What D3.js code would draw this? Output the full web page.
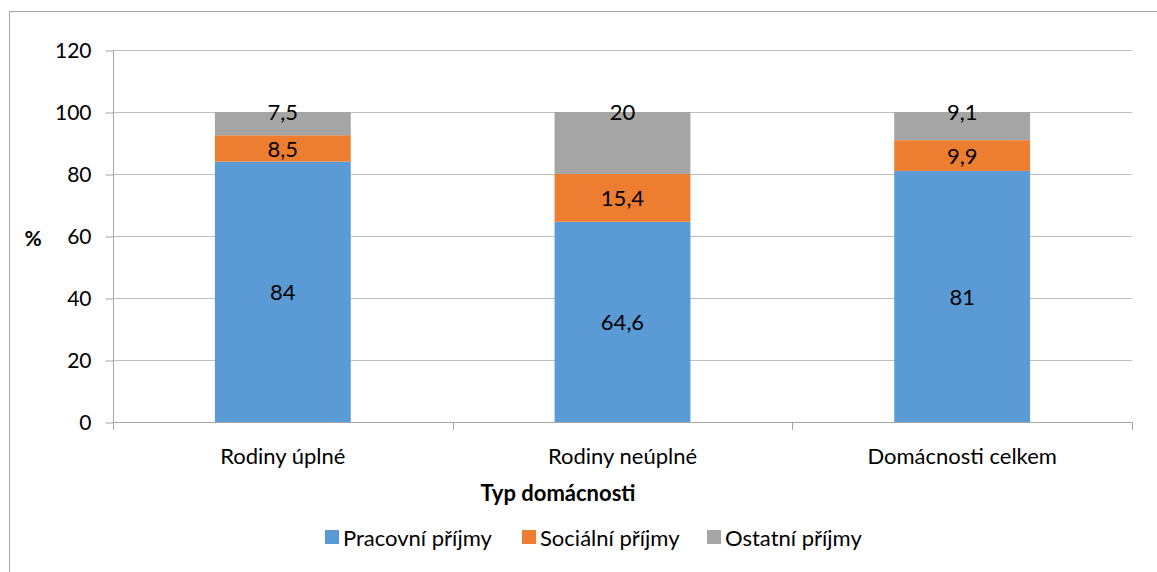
<!DOCTYPE html>
<html>
<head>
<meta charset="utf-8">
<script src="https://cdn.jsdelivr.net/npm/d3@7"></script>
<style>
  html, body { margin: 0; padding: 0; background: #fff; }
  svg { display: block; }
  text { font-family: Lato, "Open Sans", sans-serif; fill: #000; }
</style>
</head>
<body>
<svg id="chart" width="1157" height="572"></svg>
<script>
const categories = ["Rodiny úplné", "Rodiny neúplné", "Domácnosti celkem"];
const seriesNames = ["Pracovní příjmy", "Sociální příjmy", "Ostatní příjmy"];
const pracovni = [84, 64.6, 81];
const socialni = [8.5, 15.4, 9.9];
const ostatni = [7.5, 20, 9.1];
const yTicks = [0, 20, 40, 60, 80, 100, 120];
const colors = ["#5B9BD5", "#ED7D31", "#A5A5A5"];

(function () {
const svg = d3.select("#chart");
const pLeft = 113, pRight = 1132, pTop = 50, pBottom = 422;
const fmt = v => String(+v.toFixed(1)).replace(".", ",");

// outer border
svg.append("rect").attr("x", 9.5).attr("y", 11.5).attr("width", 1200).attr("height", 600)
  .attr("fill", "none").attr("stroke", "#A6A6A6").attr("stroke-width", 1);

const x = d3.scaleBand().domain(categories).range([pLeft, pRight]).paddingInner(0.6).paddingOuter(0.3);
const y = d3.scaleLinear().domain([0, 120]).range([pBottom, pTop]);

// gridlines
svg.append("g").selectAll("line").data(yTicks.filter(t => t > 0)).join("line")
  .attr("x1", pLeft).attr("x2", pRight)
  .attr("y1", d => Math.round(y(d)) + 0.5).attr("y2", d => Math.round(y(d)) + 0.5)
  .attr("stroke", "#BFBFBF").attr("stroke-width", 1);

// y axis
const yAxis = svg.append("g").attr("transform", `translate(${pLeft + 0.5},0.5)`)
  .call(d3.axisLeft(y).tickValues(yTicks).tickSize(8).tickPadding(14).tickFormat(d => d));
yAxis.select(".domain").attr("stroke", "#A6A6A6").attr("d", `M0,${pTop}V${pBottom}`);
yAxis.selectAll(".tick line").attr("stroke", "#A6A6A6");
yAxis.selectAll(".tick text").attr("font-size", 21).attr("font-family", "Lato, sans-serif").attr("fill", "#000");

// stacked data
const rows = categories.map((c, i) => ({ cat: c, p: pracovni[i], s: socialni[i], o: ostatni[i] }));
const stack = d3.stack().keys(["p", "s", "o"])(rows);

// bars
svg.append("g").selectAll("g").data(stack).join("g")
  .attr("fill", (d, i) => colors[i])
  .selectAll("rect").data(d => d).join("rect")
  .attr("x", d => x(d.data.cat))
  .attr("width", x.bandwidth())
  .attr("y", d => y(d[1]))
  .attr("height", d => y(d[0]) - y(d[1]));

// x axis
const step = x.step();
const boundaries = [pLeft, ...categories.map(c => x(c) + x.bandwidth() / 2 + step / 2)];
const xg = svg.append("g");
xg.append("line").attr("x1", pLeft).attr("x2", pRight).attr("y1", pBottom + 0.5).attr("y2", pBottom + 0.5)
  .attr("stroke", "#A6A6A6");
xg.selectAll("line.tick").data(boundaries).join("line").attr("class", "tick")
  .attr("x1", d => Math.round(d) + 0.5).attr("x2", d => Math.round(d) + 0.5)
  .attr("y1", pBottom).attr("y2", pBottom + 8).attr("stroke", "#A6A6A6");
xg.selectAll("text").data(categories).join("text")
  .attr("x", d => x(d) + x.bandwidth() / 2).attr("y", 455)
  .attr("text-anchor", "middle").attr("dominant-baseline", "central")
  .attr("font-size", 22).text(d => d);

// data labels
const labelG = svg.append("g");
stack.forEach((layer, li) => {
  layer.forEach(d => {
    const v = d[1] - d[0];
    const cy = li === 2 ? y(d[1]) - 1 : (y(d[0]) + y(d[1])) / 2;
    labelG.append("text")
      .attr("x", x(d.data.cat) + x.bandwidth() / 2)
      .attr("y", cy)
      .attr("text-anchor", "middle").attr("dominant-baseline", "central")
      .attr("font-size", 22).text(fmt(v));
  });
});

// axis titles
svg.append("text").attr("x", 33).attr("y", 237).attr("text-anchor", "middle")
  .attr("dominant-baseline", "central").attr("font-size", 21).attr("font-weight", "bold").text("%");
svg.append("text").attr("x", 558).attr("y", 492).attr("text-anchor", "middle")
  .attr("dominant-baseline", "central").attr("font-size", 22).attr("font-weight", "bold").text("Typ domácnosti");

// legend
const legendX = [325, 522, 707];
const lg = svg.append("g");
seriesNames.forEach((n, i) => {
  lg.append("rect").attr("x", legendX[i]).attr("y", 530).attr("width", 14).attr("height", 14).attr("fill", colors[i]);
  lg.append("text").attr("x", legendX[i] + 18).attr("y", 537).attr("dominant-baseline", "central")
    .attr("font-size", 22).text(n);
});
})();
</script>
</body>
</html>
